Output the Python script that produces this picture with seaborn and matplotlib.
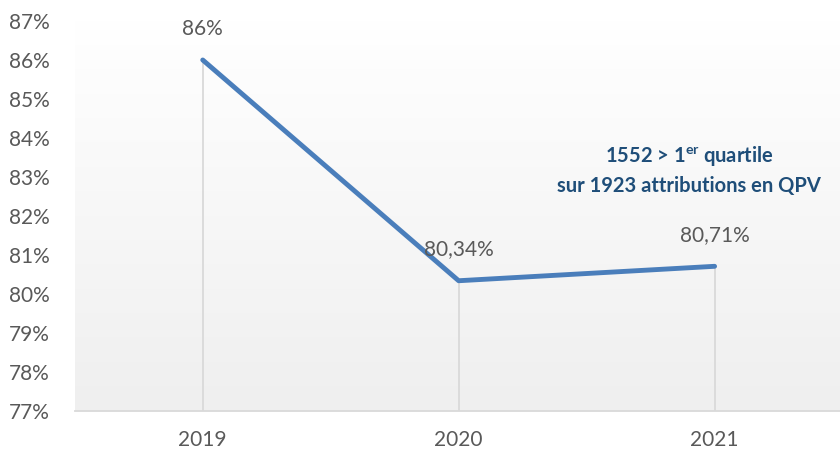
import numpy as np
import pandas as pd
import seaborn as sns
import matplotlib.pyplot as plt

annees = ["2019", "2020", "2021"]
taux = [86.0, 80.34, 80.71]
etiquettes = ["86%", "80,34%", "80,71%"]
yticks = list(range(77, 88))

sns.set_style("white")
plt.rcParams['font.family'] = ['Lato', 'DejaVu Sans']
plt.rcParams['mathtext.fontset'] = 'custom'
plt.rcParams['mathtext.rm'] = 'Lato'
plt.rcParams['mathtext.bf'] = 'Lato:bold'

df = pd.DataFrame({"annee": annees, "taux": taux})

fig = plt.figure(figsize=(8.4, 4.53), dpi=100)
ax = fig.add_axes([0.089, 0.0927, 0.911, 0.861])

# fond en degrade (blanc en haut, gris clair en bas)
grad = np.linspace(0.0, 1.0, 256).reshape(-1, 1)
ax.imshow(grad, cmap=sns.blend_palette(["#efefef", "#ffffff"], as_cmap=True),
          extent=[-0.5, 2.49, 77, 87], aspect='auto', zorder=0, origin='lower')

# lignes verticales
ax.vlines(range(len(annees)), 77, taux, color="#d9d9d9", lw=1.3, zorder=1)

sns.lineplot(data=df, x="annee", y="taux", ax=ax, color="#4a7ebb", lw=3.5,
             sort=False, zorder=3)

for i, (v, t) in enumerate(zip(taux, etiquettes)):
    ax.text(i, v + 0.8, t, ha="center", va="center", fontsize=15, color="#595959", zorder=4)

ax.text(1.9, 83.55, "1552 > 1$^{\\mathbf{er}}$ quartile", ha="center", va="center",
        fontsize=14.5, fontweight="bold", color="#1f4e79")
ax.text(1.9, 82.78, "sur 1923 attributions en QPV", ha="center", va="center",
        fontsize=14.5, fontweight="bold", color="#1f4e79")

ax.set_xlim(-0.5, 2.49)
ax.set_ylim(77, 87)
ax.set_yticks(yticks)
ax.set_yticklabels([f"{y}%" for y in yticks])
ax.tick_params(axis="y", length=0, pad=18, labelsize=15, labelcolor="#595959")
ax.tick_params(axis="x", length=0, pad=14, labelsize=15, labelcolor="#595959")
ax.set_xlabel("")
ax.set_ylabel("")
for s in ["top", "right", "left"]:
    ax.spines[s].set_visible(False)
ax.spines["bottom"].set_color("#d9d9d9")
ax.spines["bottom"].set_linewidth(1.3)

fig.savefig("out.png", dpi=100)
